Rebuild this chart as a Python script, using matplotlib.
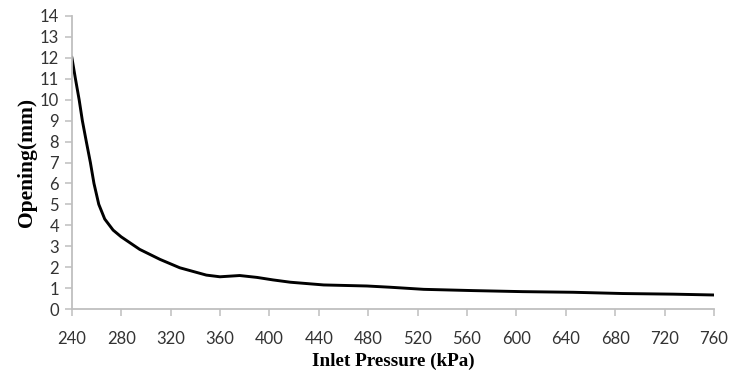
import matplotlib
matplotlib.use('Agg')
import matplotlib.pyplot as plt

# values
pressure = [240, 243, 246, 248.6, 251.8, 255.1, 258, 261.9, 266.7, 273.5, 280, 295,
            311.5, 327.5, 349, 360, 376, 390, 403, 417, 444, 479, 498, 525, 565,
            605, 646, 686, 727, 760]
opening = [12.05, 11, 10, 9, 8, 7, 6, 5, 4.3, 3.77, 3.45, 2.85,
           2.37, 1.97, 1.62, 1.54, 1.6, 1.51, 1.39, 1.28, 1.15, 1.1, 1.04, 0.94, 0.88,
           0.83, 0.8, 0.74, 0.71, 0.67]
xticks = list(range(240, 761, 40))
yticks = list(range(0, 15))

axcol = '#bfbfbf'
txtcol = '#333333'

fig = plt.figure(figsize=(7.29, 3.78), dpi=100)
ax = fig.add_axes([0.0984, 0.1825, 0.881, 0.7752])
ax.plot(pressure, opening, color='black', lw=2.1, solid_capstyle='round',
        solid_joinstyle='round')

ax.set_xlim(240, 760)
ax.set_ylim(0, 14)
ax.set_xticks(xticks)
ax.set_yticks(yticks)
for s in ['top', 'right']:
    ax.spines[s].set_visible(False)
for s in ['left', 'bottom']:
    ax.spines[s].set_color(axcol)
    ax.spines[s].set_linewidth(1.3)
ax.tick_params(axis='both', direction='out', length=5, width=1.1, color=axcol,
               labelcolor=txtcol, labelsize=12)
ax.tick_params(axis='x', pad=11)
ax.tick_params(axis='y', pad=4)
for lab in ax.get_xticklabels() + ax.get_yticklabels():
    lab.set_family('Lato')

ax.set_xlabel('Inlet Pressure (kPa)', family='Liberation Serif', fontweight='bold',
              fontsize=13.8, color='black', labelpad=4)
ax.set_ylabel('Opening(mm)', family='Liberation Serif', fontweight='bold',
              fontsize=15.5, color='black', labelpad=2)

fig.savefig('out.png', dpi=100)
